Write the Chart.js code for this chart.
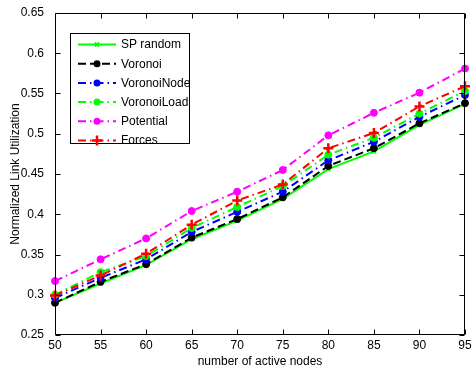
<!DOCTYPE html>
<html>
<head>
<meta charset="utf-8">
<style>
  html, body { margin: 0; padding: 0; background: #fff; overflow: hidden; }
  canvas { display: block; }
</style>
<script src="https://cdn.jsdelivr.net/npm/chart.js@4.4.1/dist/chart.umd.min.js"></script>
</head>
<body>
<canvas id="c" width="474" height="372"></canvas>
<script>
// Number of active nodes (x axis)
const activeNodes = [50, 55, 60, 65, 70, 75, 80, 85, 90, 95];

// Normalized link utilization per placement strategy
const spRandom    = [0.290, 0.314, 0.337, 0.369, 0.392, 0.419, 0.456, 0.478, 0.511, 0.537];
const voronoi     = [0.290, 0.316, 0.338, 0.371, 0.394, 0.421, 0.460, 0.482, 0.513, 0.538];
const voronoiNode = [0.296, 0.321, 0.344, 0.378, 0.403, 0.428, 0.467, 0.490, 0.521, 0.548];
const voronoiLoad = [0.300, 0.328, 0.348, 0.383, 0.409, 0.435, 0.474, 0.495, 0.525, 0.553];
const potential   = [0.317, 0.344, 0.370, 0.404, 0.428, 0.455, 0.498, 0.526, 0.551, 0.581];
const forces      = [0.299, 0.324, 0.351, 0.387, 0.417, 0.437, 0.482, 0.501, 0.534, 0.559];

const seriesNames = ['SP random', 'Voronoi', 'VoronoiNode', 'VoronoiLoad', 'Potential', 'Forces'];
const seriesValues = [spRandom, voronoi, voronoiNode, voronoiLoad, potential, forces];

const xTicks = [50, 55, 60, 65, 70, 75, 80, 85, 90, 95];
const yTicks = [0.25, 0.3, 0.35, 0.4, 0.45, 0.5, 0.55, 0.6, 0.65];
const xTitle = 'number of active nodes';
const yTitle = 'Normalized Link Utilization';

const FONT = 'Liberation Sans, Arial, Helvetica, sans-serif';
const DASH = [8, 4];
const DASHDOT = [8, 4, 1.5, 4];

const styles = [
  { color: '#00ff00', dash: [],      marker: 'crossRot', radius: 3,   bw: 1.5 },
  { color: '#000000', dash: DASH,    marker: 'circle',   radius: 3.5, bw: 1 },
  { color: '#0000ff', dash: DASHDOT, marker: 'circle',   radius: 3.5, bw: 1 },
  { color: '#00ff00', dash: DASHDOT, marker: 'circle',   radius: 3.5, bw: 1 },
  { color: '#ff00ff', dash: DASHDOT, marker: 'circle',   radius: 3.5, bw: 1 },
  { color: '#ff0000', dash: DASHDOT, marker: 'cross',    radius: 5,   bw: 2.5 }
];

const datasets = seriesNames.map((name, i) => ({
  label: name,
  data: activeNodes.map((x, j) => ({ x: x, y: seriesValues[i][j] })),
  borderColor: styles[i].color,
  backgroundColor: styles[i].color,
  borderWidth: 2,
  borderDash: styles[i].dash,
  pointStyle: styles[i].marker,
  pointRadius: styles[i].radius,
  pointBorderWidth: styles[i].bw,
  pointBorderColor: styles[i].color,
  pointBackgroundColor: styles[i].color,
  tension: 0,
  clip: false,
  order: seriesNames.length - i
}));

function drawMarker(ctx, style, cx, cy) {
  ctx.save();
  ctx.setLineDash([]);
  ctx.strokeStyle = style.color;
  ctx.fillStyle = style.color;
  ctx.lineWidth = style.bw;
  const r = style.radius;
  ctx.beginPath();
  if (style.marker === 'circle') {
    ctx.arc(cx, cy, r, 0, Math.PI * 2);
    ctx.fill();
  } else if (style.marker === 'cross') {
    ctx.moveTo(cx - r, cy); ctx.lineTo(cx + r, cy);
    ctx.moveTo(cx, cy - r); ctx.lineTo(cx, cy + r);
    ctx.stroke();
  } else {
    const d = r * 0.7071;
    ctx.moveTo(cx - d, cy - d); ctx.lineTo(cx + d, cy + d);
    ctx.moveTo(cx - d, cy + d); ctx.lineTo(cx + d, cy - d);
    ctx.stroke();
  }
  ctx.restore();
}

// Axes box with inward ticks on all four sides, plus x tick labels and title
const framePlugin = {
  id: 'frame',
  afterDatasetsDraw(chart) {
    const { ctx, scales } = chart;
    const xs = scales.x, ys = scales.y;
    const L = Math.round(xs.getPixelForValue(xs.min)) + 0.5;
    const R = Math.round(xs.getPixelForValue(xs.max)) - 0.5;
    const T = Math.round(ys.getPixelForValue(ys.max)) + 0.5;
    const B = Math.round(ys.getPixelForValue(ys.min)) - 0.5;
    ctx.save();
    ctx.strokeStyle = '#000';
    ctx.lineWidth = 1;
    ctx.setLineDash([]);
    ctx.beginPath();
    ctx.rect(L, T, R - L, B - T);
    const tl = 5;
    xTicks.forEach(v => {
      const px = Math.round(xs.getPixelForValue(v)) + 0.5;
      ctx.moveTo(px, B); ctx.lineTo(px, B - tl);
      ctx.moveTo(px, T); ctx.lineTo(px, T + tl);
    });
    yTicks.forEach(v => {
      const py = Math.round(ys.getPixelForValue(v)) + 0.5;
      ctx.moveTo(L, py); ctx.lineTo(L + tl, py);
      ctx.moveTo(R, py); ctx.lineTo(R - tl, py);
    });
    ctx.stroke();

    ctx.fillStyle = '#000';
    ctx.font = '12px ' + FONT;
    ctx.textAlign = 'center';
    ctx.textBaseline = 'middle';
    xTicks.forEach(v => {
      ctx.fillText(String(v), xs.getPixelForValue(v), B + 11.5);
    });
    ctx.fillText(xTitle, (L + R) / 2, B + 27.5);
    ctx.restore();
  }
};

// Boxed legend in the upper-left corner of the plot
const legendPlugin = {
  id: 'boxLegend',
  afterDraw(chart) {
    const { ctx } = chart;
    const bx = 70.5, by = 33.5, bw = 119, bh = 110;
    ctx.save();
    ctx.fillStyle = '#fff';
    ctx.fillRect(bx, by, bw, bh);
    ctx.strokeStyle = '#000';
    ctx.lineWidth = 1;
    ctx.setLineDash([]);
    ctx.strokeRect(bx, by, bw, bh);
    ctx.font = '12px ' + FONT;
    ctx.textBaseline = 'middle';
    ctx.textAlign = 'left';
    seriesNames.forEach((name, i) => {
      const st = styles[i];
      const y = 44.5 + i * 19.2;
      ctx.strokeStyle = st.color;
      ctx.lineWidth = 2;
      ctx.setLineDash(st.dash);
      ctx.beginPath();
      ctx.moveTo(78, y); ctx.lineTo(116, y);
      ctx.stroke();
      drawMarker(ctx, st, 97, y);
      ctx.fillStyle = '#000';
      ctx.fillText(name, 121, y + 0.5);
    });
    ctx.restore();
  }
};

new Chart(document.getElementById('c'), {
  type: 'line',
  data: { datasets: datasets },
  options: {
    responsive: false,
    animation: false,
    devicePixelRatio: 1,
    layout: { padding: { top: 13, right: 9, left: 0, bottom: 0 } },
    plugins: { legend: { display: false }, tooltip: { enabled: false } },
    scales: {
      x: {
        type: 'linear',
        min: 50, max: 95,
        afterBuildTicks: s => { s.ticks = xTicks.map(v => ({ value: v })); },
        afterFit: s => { s.height = 37; },
        grid: { display: false },
        border: { display: false },
        ticks: { display: false },
        title: { display: false }
      },
      y: {
        type: 'linear',
        min: 0.25, max: 0.65,
        afterBuildTicks: s => { s.ticks = yTicks.map(v => ({ value: v })); },
        afterFit: s => { s.width = 55; },
        grid: { display: false },
        border: { display: false },
        ticks: { color: '#000', font: { family: FONT, size: 12 }, padding: 3,
                 callback: v => String(+v.toFixed(2)) },
        title: { display: true, text: yTitle, color: '#000',
                 font: { family: FONT, size: 12 }, padding: { top: 8, bottom: 0 } }
      }
    }
  },
  plugins: [framePlugin, legendPlugin]
});
</script>
</body>
</html>
